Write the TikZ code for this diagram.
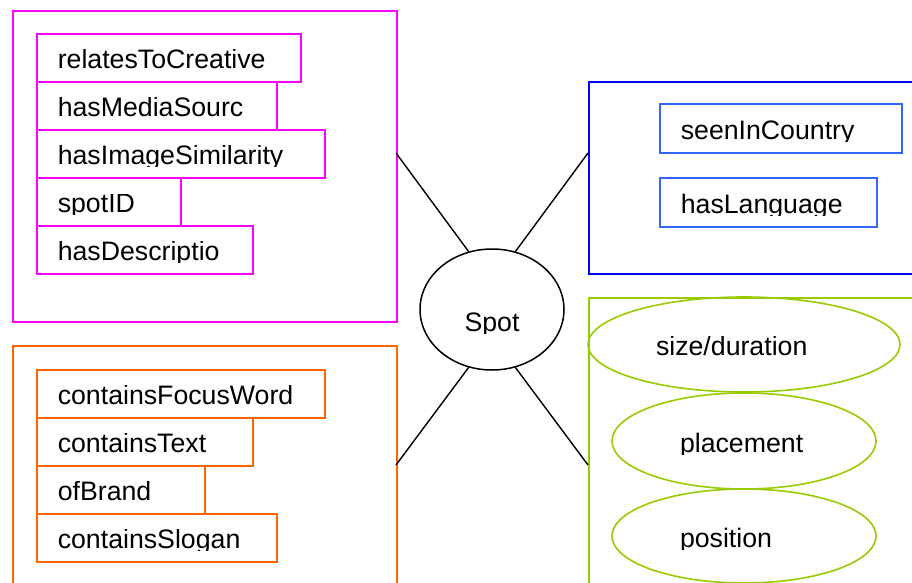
\documentclass[tikz,border=0pt]{standalone}
\usepackage{fontspec}
\setmainfont{Liberation Sans}
\usepackage{trimclip}
\usetikzlibrary{shapes.geometric}

\definecolor{propmag}{HTML}{FF00FF}
\definecolor{proporange}{HTML}{FF6600}
\definecolor{propgreen}{HTML}{99CC00}
\definecolor{groupblue}{HTML}{0000FF}
\definecolor{propblue}{HTML}{3366FF}

% labels lose their descenders just below the baseline
\newcommand\trimdesc[1]{\clipbox{0pt {\dimexpr\depth-2pt\relax} 0pt 0pt}{#1}}

\tikzset{
  every node/.style={font=\fontsize{26.7}{30}\selectfont},
  group/.style={draw, line width=1.6pt, anchor=north west, inner sep=0pt},
  prop/.style={draw, line width=1.6pt, anchor=north west, text width=#1,
    inner xsep=21pt, inner ysep=0pt, minimum height=48pt,
    text height=22pt, text depth=0pt, align=left},
  propoval/.style={draw=propgreen, line width=1.6pt, ellipse, inner sep=0pt,
    text width=#1, text height=22pt, text depth=0pt, align=left},
  centre/.style={draw=black, line width=1.5pt, ellipse, inner sep=0pt,
    minimum width=144pt, minimum height=121pt, text height=44pt, text depth=0pt},
  link/.style={draw=black, line width=1.4pt},
}

\begin{document}
\begin{tikzpicture}[x=1pt,y=-1pt]
\useasboundingbox (0,0) rectangle (912,583);
\clip (0,0) rectangle (912,583);
\fill[white] (0,0) rectangle (912,583);

% group frames
\node[group, draw=propmag, minimum width=384pt, minimum height=311pt] (metagroup) at (12,10) {};
\node[group, draw=groupblue, minimum width=342pt, minimum height=192pt] (localegroup) at (588,81) {};
\node[group, draw=proporange, minimum width=384pt, minimum height=255pt] (textgroup) at (12,345) {};
\node[group, draw=propgreen, minimum width=342pt, minimum height=303pt] (layoutgroup) at (588,297) {};

% descriptive properties
\node[prop=222pt, draw=propmag] (creative) at (36,33)  {\trimdesc{relatesToCreative}};
\node[prop=198pt, draw=propmag] (media)    at (36,81)  {\trimdesc{hasMediaSourc}};
\node[prop=246pt, draw=propmag] (image)    at (36,129) {\trimdesc{hasImageSimilarity}};
\node[prop=102pt, draw=propmag] (spotid)   at (36,177) {\trimdesc{spotID}};
\node[prop=174pt, draw=propmag] (descr)    at (36,225) {\trimdesc{hasDescriptio}};

% locale properties
\node[prop=200pt, draw=propblue, minimum height=49pt] (country)  at (659,103) {\trimdesc{seenInCountry}};
\node[prop=175pt, draw=propblue, minimum height=49pt] (language) at (659,177) {\trimdesc{hasLanguage}};

% textual content properties
\node[prop=246pt, draw=proporange] (focus)  at (36,369) {\trimdesc{containsFocusWord}};
\node[prop=174pt, draw=proporange] (text)   at (36,417) {\trimdesc{containsText}};
\node[prop=126pt, draw=proporange] (brand)  at (36,465) {\trimdesc{ofBrand}};
\node[prop=198pt, draw=proporange] (slogan) at (36,513) {\trimdesc{containsSlogan}};

% layout attributes
\node[propoval=176pt, minimum width=312pt, minimum height=95pt] (size)      at (744,344.5) {\trimdesc{size/duration}};
\node[propoval=128pt, minimum width=264pt, minimum height=96pt] (placement) at (744,441)   {\trimdesc{placement}};
\node[propoval=128pt, minimum width=264pt, minimum height=94pt] (position)  at (744,536)   {\trimdesc{position}};

% central concept
\node[centre] (spot) at (492,309.5) {\trimdesc{Spot}};

% connectors from the groups to the concept
\coordinate (metaend)   at (396,153);
\coordinate (localeend) at (588,153);
\coordinate (textend)   at (396,465);
\coordinate (layoutend) at (588,465);
\draw[link] (metaend)   -- (spot.112);
\draw[link] (localeend) -- (spot.68);
\draw[link] (textend)   -- (spot.248);
\draw[link] (layoutend) -- (spot.292);
\end{tikzpicture}
\end{document}
